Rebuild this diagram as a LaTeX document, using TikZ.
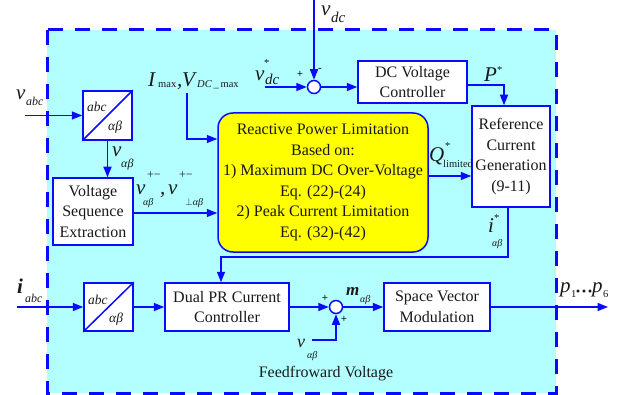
\documentclass[tikz,border=0pt]{standalone}
\usepackage{fontspec}
\setmainfont{Liberation Serif}
\usetikzlibrary{arrows.meta}
\definecolor{myblue}{RGB}{10,10,255}
\definecolor{bgcyan}{RGB}{179,255,255}
\definecolor{boxyellow}{RGB}{255,255,0}
\definecolor{txt}{RGB}{25,25,25}
\newcommand\FLg{\fontsize{21}{21}\selectfont\itshape}
\newcommand\FMd{\fontsize{15}{15}\selectfont\itshape}
\newcommand\FSm{\fontsize{12}{12}\selectfont\itshape}
\newcommand\FAb{\fontsize{13.5}{13.5}\selectfont\itshape}
\newcommand\FXs{\fontsize{10}{10}\selectfont\itshape}
\newcommand\FUp{\fontsize{10.5}{10.5}\selectfont}
\newcommand\FBox{\fontsize{16}{20.5}\selectfont}
\tikzset{
  blk/.style={draw=myblue, line width=1.5pt, fill=white, inner sep=0pt, align=center, font=\FBox, text=txt},
  sumc/.style={circle, draw=myblue, line width=1.5pt, fill=white, minimum size=13pt, inner sep=0pt},
  wire/.style={draw=myblue, line width=1.5pt},
  conn/.style={wire, -{Triangle[length=10.5pt,width=8pt]}},
  lab/.style={inner sep=0pt, anchor=base west, text=txt},
  sgn/.style={inner sep=0pt, anchor=base, text=txt, font=\fontsize{11}{11}\selectfont\bfseries},
}
\begin{document}
\begin{tikzpicture}[x=1pt,y=-1pt]
\useasboundingbox (0,0) rectangle (628,395);
\fill[bgcyan] (47,30) rectangle (556,393);
\draw[myblue, line width=3pt, dash pattern=on 15pt off 12pt] (47,30) rectangle (556,393);

% blocks
\node[blk, minimum width=49pt, minimum height=49pt] (abc1) at (107.5,115.5) {};
\draw[wire] (abc1.south west) -- (abc1.north east);
\node[lab, font=\FAb] (abc1t) at (87,112) {abc};
\node[lab, font=\FAb] (abc1b) at (108,131) {αβ};

\node[blk, minimum width=80pt, minimum height=67pt] (vse) at (93,211.5) {Voltage\\Sequence\\Extraction};
\node[sumc] (sum1) at (314,87) {};
\node[blk, minimum width=109pt, minimum height=42pt] (dcv) at (412.5,82) {DC Voltage\\Controller};
\node[blk, minimum width=78pt, minimum height=101pt] (rcg) at (511,156.5) {Reference\\Current\\Generation\\(9-11)};
\node[blk, fill=boxyellow, rounded corners=15pt, minimum width=210pt, minimum height=139pt] (rpl) at (323,182.5)
  {Reactive Power Limitation\\Based on:\\1) Maximum DC Over-Voltage\\Eq. (22)-(24)\\2) Peak Current Limitation\\Eq. (32)-(42)};

\node[blk, minimum width=49pt, minimum height=48pt] (abc2) at (108.5,307) {};
\draw[wire] (abc2.south west) -- (abc2.north east);
\node[lab, font=\FAb] (abc2t) at (88,304) {abc};
\node[lab, font=\FAb] (abc2b) at (109,322) {αβ};

\node[blk, minimum width=124pt, minimum height=48pt] (dpr) at (227,307) {Dual PR Current\\Controller};
\node[sumc] (sum2) at (336,307) {};
\node[blk, minimum width=106pt, minimum height=48pt] (svm) at (437,307) {Space Vector\\Modulation};

% coordinates
\coordinate (vdctop) at (314,0);
\coordinate (vdcs) at (265,87);
\coordinate (pcorner) at (504,85);
\coordinate (qy) at (0,176);
\coordinate (imx) at (187,93);
\coordinate (imxy) at (0,139);
\coordinate (vsey) at (0,213);
\coordinate (vabcin) at (25,115.5);
\coordinate (iabcin) at (17,307);
\coordinate (ic1) at (508,257);
\coordinate (icx) at (221,0);
\coordinate (ffin) at (312,340);
\coordinate (pout) at (608,307);

% connectors
\draw[conn] (vdctop) -- (sum1);
\draw[conn] (vdcs) -- (sum1);
\draw[conn] (sum1) -- (sum1 -| dcv.west);
\draw[conn] (dcv.east |- pcorner) -| (rcg.north -| pcorner);
\draw[conn] (rpl.east |- qy) -- (rcg.west |- qy);
\draw[conn] (imx) |- (rpl.west |- imxy);
\draw[conn] (vse.east |- vsey) -- (rpl.west |- vsey);
\draw[conn] (vabcin) -- (abc1.west);
\draw[conn] (abc1.south) -- (abc1.south |- vse.north);
\draw[conn] (iabcin) -- (abc2.west);
\draw[conn] (abc2) -- (dpr);
\draw[conn] (rcg.south -| ic1) -- (ic1) -| (dpr.north -| icx);
\draw[conn] (dpr) -- (sum2);
\draw[conn] (ffin) -| (sum2.south);
\draw[conn] (sum2) -- (svm);
\draw[conn] (svm) -- (pout);

% labels
\node[lab, font=\FLg] (vabcv) at (16,100) {v};
\node[lab, font=\FSm] (vabcs) at (26,106) {abc};

\node[lab, font=\FLg] (vdcv) at (321,16) {v};
\node[lab, font=\FMd] (vdcsub) at (331,23) {dc};
\node[sgn] (mi1) at (320,72) {-};
\node[sgn] (pl1) at (300,78) {+};

\node[lab, font=\FLg] (vdsv) at (255,81) {v};
\node[lab, font=\FUp] (vdsst) at (264,67) {*};
\node[lab, font=\FMd] (vdssub) at (265,85) {dc};

\node[lab, font=\FLg] (imI) at (148,87) {I};
\node[lab, font=\FUp] (imsub) at (158,88) {max};
\node[lab, font=\FLg] (imcom) at (177,87) {,};
\node[lab, font=\FLg] (imV) at (182,87) {V};
\node[lab, font=\FUp] (imVsub) at (197,88) {\textit{DC}\,\_\,max};

\node[lab, font=\FLg] (vpv1) at (136,195) {v};
\node[lab, font=\FSm\upshape] (vpp1) at (147,179) {+−};
\node[lab, font=\FXs] (vps1) at (143,206) {αβ};
\node[lab, font=\FLg] (vpcom) at (160,195) {,};
\node[lab, font=\FLg] (vpv2) at (168,195) {v};
\node[lab, font=\FSm\upshape] (vpp2) at (179,179) {+−};
\node[lab, font=\FXs] (vps2) at (185,206) {$\perp$αβ};

\node[lab, font=\FLg] (vabv) at (112,157) {v};
\node[lab, font=\FSm] (vabs) at (121,168) {αβ};

\node[lab, font=\FLg] (Pv) at (484,82) {P};
\node[lab, font=\FUp] (Pst) at (497,74) {*};

\node[lab, font=\FLg] (Qv) at (429,162) {Q};
\node[lab, font=\FUp] (Qst) at (445,150) {*};
\node[lab, font=\FUp] (Qsub) at (443,168) {limited};

\node[lab, font=\FLg] (iav) at (488,233) {i};
\node[lab, font=\FUp] (iast) at (494,222) {*};
\node[lab, font=\FXs] (iasub) at (492,246) {αβ};

\node[lab, font=\FLg\bfseries] (iabcv) at (17,293) {i};
\node[lab, font=\FSm] (iabcs) at (25,302) {abc};

\node[lab, font=\fontsize{17}{17}\selectfont\bfseries\itshape] (mv) at (346,295) {m};
\node[lab, font=\FXs] (msub) at (360,302) {αβ};
\node[sgn] (pl2) at (325,301) {+};
\node[sgn] (pl3) at (344,322) {+};

\node[lab, font=\fontsize{18}{18}\selectfont\itshape] (ffv) at (297,347) {v};
\node[lab, font=\FXs] (ffsub) at (307,358) {αβ};
\node[inner sep=0pt, anchor=base, text=txt, font=\FBox] (fft) at (326,377) {Feedfroward Voltage};

\node[lab, font=\FLg] (p1v) at (560,292) {p};
\node[lab, font=\FUp] (p1s) at (571,297) {1};
\node[lab, font=\fontsize{18}{18}\selectfont\bfseries] (pdots) at (575,297) {···};
\node[lab, font=\FLg] (p6v) at (592,292) {p};
\node[lab, font=\FUp] (p6s) at (603,297) {6};
\end{tikzpicture}
\end{document}
